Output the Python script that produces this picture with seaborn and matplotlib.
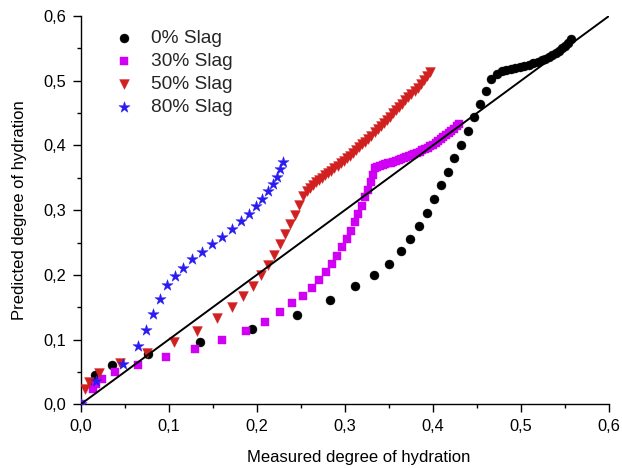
import matplotlib
matplotlib.use('Agg')
import matplotlib.pyplot as plt
import seaborn as sns
from matplotlib.ticker import MultipleLocator

# ---------------- data ----------------
black_x = [0.0125, 0.0162, 0.0355, 0.0764, 0.135, 0.195, 0.246, 0.2835, 0.312, 0.333,
           0.35, 0.3634, 0.3743, 0.3842, 0.3933, 0.401, 0.4089, 0.4168, 0.4243, 0.4316,
           0.4395, 0.4467, 0.4535, 0.46, 0.4663, 0.4725, 0.4781, 0.483, 0.4883, 0.4936,
           0.4989, 0.5038, 0.5091, 0.514, 0.519, 0.5235, 0.5277, 0.5318, 0.5356, 0.5394,
           0.5428, 0.5462, 0.5497, 0.5531, 0.5572]
black_y = [0.033, 0.0453, 0.0608, 0.0778, 0.0963, 0.116, 0.1376, 0.161, 0.1825, 0.1995,
           0.2174, 0.2366, 0.256, 0.2757, 0.2963, 0.317, 0.3386, 0.359, 0.381, 0.401,
           0.4226, 0.4432, 0.4633, 0.4834, 0.502, 0.5107, 0.5143, 0.5159, 0.5174, 0.519,
           0.5205, 0.5226, 0.5246, 0.5267, 0.5288, 0.5313, 0.5339, 0.5365, 0.5396, 0.5427,
           0.5458, 0.5498, 0.5536, 0.5576, 0.5649]

mag_x = [0.0, 0.0143, 0.017, 0.0242, 0.039, 0.0647, 0.0969, 0.1298, 0.1605, 0.1874,
         0.209, 0.226, 0.24, 0.2521, 0.2623, 0.2707, 0.2782, 0.2854, 0.2915, 0.2971,
         0.3025, 0.307, 0.3112, 0.3153, 0.3191, 0.3233, 0.3263, 0.3293, 0.3323, 0.3342,
         0.337, 0.340, 0.343, 0.346, 0.349, 0.352, 0.355, 0.358, 0.361, 0.364,
         0.367, 0.370, 0.373, 0.376, 0.379, 0.382, 0.385, 0.388, 0.391, 0.394,
         0.397, 0.400, 0.403, 0.406, 0.409, 0.412, 0.415, 0.418, 0.421, 0.424,
         0.427, 0.430]
mag_y = [0.0, 0.0232, 0.031, 0.0396, 0.0504, 0.0613, 0.0731, 0.0855, 0.0994, 0.1133,
         0.1277, 0.1432, 0.1566, 0.168, 0.1803, 0.1922, 0.205, 0.2174, 0.2298, 0.2432,
         0.2561, 0.2684, 0.2819, 0.2943, 0.3066, 0.3206, 0.3318, 0.3433, 0.3546, 0.3654,
         0.3670, 0.3683, 0.3696, 0.3708, 0.3721, 0.3734, 0.3746, 0.3759, 0.3771, 0.3786,
         0.3802, 0.3818, 0.3834, 0.3850, 0.3866, 0.3883, 0.3904, 0.3925, 0.3946, 0.3967,
         0.3988, 0.4010, 0.4040, 0.4070, 0.4100, 0.4130, 0.4160, 0.4190, 0.4225, 0.4260,
         0.4295, 0.4330]

red_x = [0.0045, 0.0094, 0.0208, 0.0446, 0.0757, 0.106, 0.1324, 0.1545, 0.1715, 0.1847,
         0.1953, 0.2048, 0.2124, 0.2195, 0.2264, 0.2324, 0.2381, 0.2434, 0.2479, 0.2528,
         0.2567, 0.2602, 0.2637, 0.2672, 0.2707, 0.2742, 0.2777, 0.2812, 0.2847, 0.2882,
         0.2917, 0.2952, 0.2987, 0.3022, 0.3057, 0.3092, 0.3127, 0.3162, 0.3197, 0.3232,
         0.3267, 0.3302, 0.3337, 0.3372, 0.3407, 0.3442, 0.3477, 0.3512, 0.3547, 0.3582,
         0.3617, 0.3652, 0.3687, 0.3722, 0.3757, 0.3792, 0.3827, 0.3862, 0.3897, 0.3932,
         0.3967]
red_y = [0.0232, 0.035, 0.048, 0.0634, 0.0798, 0.0963, 0.1138, 0.133, 0.1509, 0.168,
         0.1834, 0.1995, 0.2159, 0.2313, 0.2474, 0.2629, 0.2783, 0.2927, 0.3082, 0.3226,
         0.3303, 0.3345, 0.3387, 0.3428, 0.3465, 0.3502, 0.3539, 0.3576, 0.3612, 0.3649,
         0.3687, 0.3725, 0.3763, 0.3801, 0.3839, 0.3883, 0.3927, 0.3971, 0.4015, 0.4059,
         0.4105, 0.4153, 0.4201, 0.4249, 0.4297, 0.4345, 0.4395, 0.4445, 0.4495, 0.4545,
         0.4595, 0.4645, 0.4695, 0.4745, 0.4795, 0.4845, 0.4895, 0.4954, 0.5013, 0.5072,
         0.5131]

blue_x = [0.0, 0.017, 0.0484, 0.0647, 0.0745, 0.0821, 0.0901, 0.0984, 0.1075, 0.1166,
          0.1268, 0.1378, 0.1491, 0.1605, 0.1715, 0.1817, 0.1908, 0.1991, 0.2063, 0.2127,
          0.2181, 0.2229, 0.2267, 0.2301]
blue_y = [0.0, 0.0365, 0.0618, 0.0901, 0.1144, 0.1396, 0.1628, 0.1845, 0.1984, 0.2112,
          0.2242, 0.2355, 0.2474, 0.2592, 0.2715, 0.283, 0.2947, 0.3061, 0.3175, 0.3293,
          0.3406, 0.3519, 0.3634, 0.3751]

ideal_line = [0.0, 0.6]

series_labels = ['0% Slag', '30% Slag', '50% Slag', '80% Slag']
tick_values = [0.0, 0.1, 0.2, 0.3, 0.4, 0.5, 0.6]
tick_labels = ['0,0', '0,1', '0,2', '0,3', '0,4', '0,5', '0,6']
x_title = 'Measured degree of hydration'
y_title = 'Predicted degree of hydration'

# ---------------- style ----------------
sns.set_theme(style='ticks')
plt.rcParams['font.family'] = ['Liberation Sans', 'DejaVu Sans']

fig = plt.figure(figsize=(6.22, 4.68), dpi=100)
ax = fig.add_axes([0.1297, 0.1361, 0.8494, 0.8297])

specs = [
    (black_x, black_y, '#000000', 'o', 42),
    (mag_x, mag_y, '#D000F5', 's', 32),
    (red_x, red_y, '#D02020', 'v', 50),
    (blue_x, blue_y, '#2A1CF0', '*', 72),
]
for (xs, ys, col, mk, sz), lab in zip(specs, series_labels):
    sns.scatterplot(x=xs, y=ys, ax=ax, color=col, marker=mk, s=sz,
                    edgecolor=col, linewidth=0.3, label=lab, zorder=3)

sns.lineplot(x=ideal_line, y=ideal_line, ax=ax, color='black', linewidth=1.4,
             zorder=4, legend=False)

ax.set_xlim(0, 0.6)
ax.set_ylim(0, 0.6)
ax.set_xticks(tick_values, tick_labels)
ax.set_yticks(tick_values, tick_labels)
ax.xaxis.set_minor_locator(MultipleLocator(0.05))
ax.yaxis.set_minor_locator(MultipleLocator(0.05))
ax.tick_params(which='major', direction='out', length=5.8, width=1.0,
               labelsize=11.8, pad=4.5, color='black', labelcolor='black')
ax.tick_params(which='minor', direction='out', length=3.0, width=1.0, color='black')
for s in ['top', 'right']:
    ax.spines[s].set_visible(False)
for s in ['left', 'bottom']:
    ax.spines[s].set_linewidth(1.0)
    ax.spines[s].set_color('black')

ax.set_xlabel(x_title, fontsize=12, labelpad=12, color='black')
ax.xaxis.label.set_x(0.527)
ax.set_ylabel(y_title, fontsize=12, labelpad=12, color='black')

leg = ax.legend(loc='upper left', bbox_to_anchor=(0.063, 0.965), frameon=False,
                fontsize=13.8, handlelength=1.0, handletextpad=0.92,
                labelspacing=0.29, borderpad=0, borderaxespad=0)

fig.savefig('out.png', dpi=100)
